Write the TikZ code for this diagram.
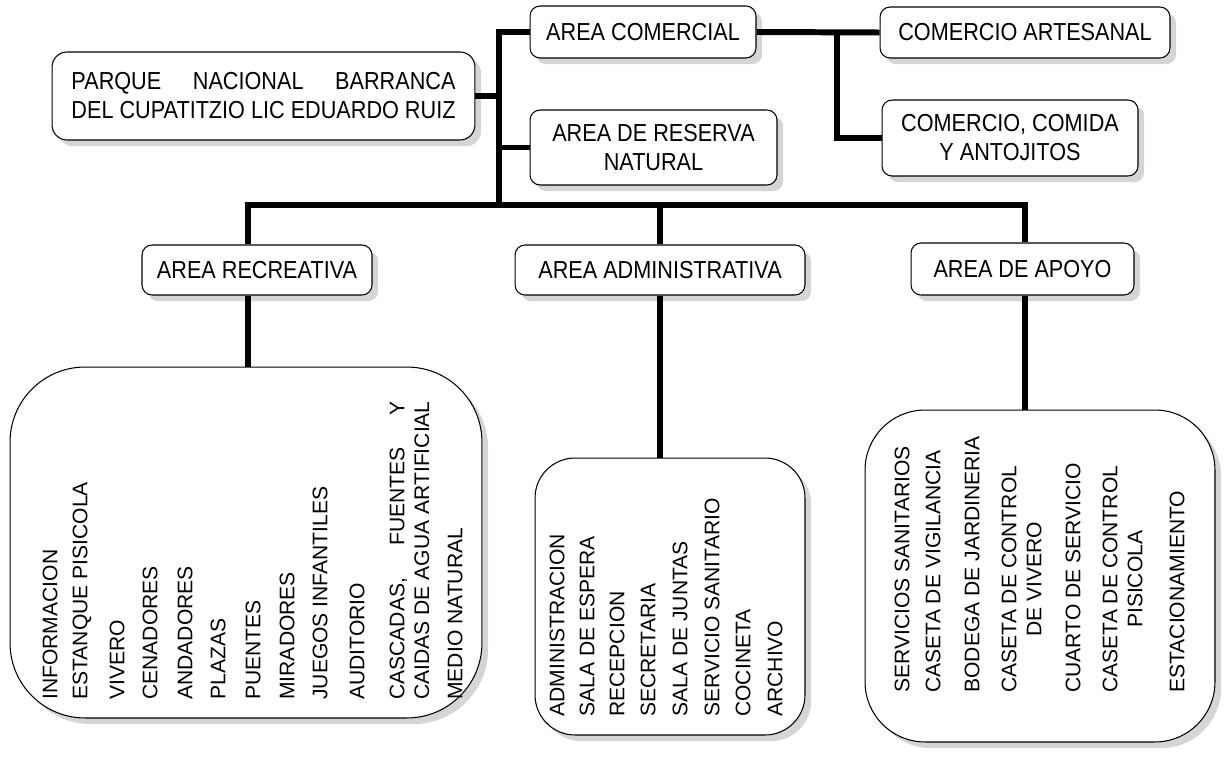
\documentclass[tikz,border=0pt]{standalone}
\usepackage{fontspec}
\setmainfont{Liberation Sans}
\newfontfamily\ttlfam[FakeStretch=0.88]{Liberation Sans}
\usetikzlibrary{shadows}
\newlength{\spw}
\newcommand{\ttl}{\ttlfam\fontsize{14}{16.5}\selectfont}
\newcommand{\lstf}{\fontsize{12}{14.2}\selectfont}
\newcommand{\spread}[2]{\settowidth{\spw}{#2}\makebox[\spw][s]{#1}}
\tikzset{
  ln/.style={line width=3.4pt},
  shd/.style={drop shadow={shadow xshift=3.5pt,shadow yshift=-3.5pt,fill=gray!65}},
  bx/.style={draw,line width=0.6pt,rounded corners=0.2cm,fill=white,shd,align=center,font=\ttl,inner sep=0pt},
  lst/.style={draw,line width=0.6pt,rounded corners=#1,fill=white,shd,inner sep=0pt},
  itm/.style={rotate=90,anchor=west,inner sep=0pt,align=center,font=\lstf}
}

\begin{document}
\begin{tikzpicture}[x=0.02cm,y=-0.02cm]
\useasboundingbox (0,0) rectangle (1226,757);
% top level
\node[bx,rounded corners=0.3cm,minimum width=8.46cm,minimum height=1.76cm] (root) at (263.5,96)
  {\spread{PARQUE NACIONAL BARRANCA}{DEL CUPATITZIO LIC EDUARDO RUIZ}\\DEL CUPATITZIO LIC EDUARDO RUIZ};
\node[bx,minimum width=4.52cm,minimum height=1.04cm] (comercial) at (643,32) {AREA COMERCIAL};
\node[bx,minimum width=5.8cm,minimum height=1.02cm] (artesanal) at (1025,32.5) {COMERCIO ARTESANAL};
\node[bx,minimum width=5.12cm,minimum height=1.52cm] (comida) at (1010,138) {COMERCIO, COMIDA\\Y ANTOJITOS};
\node[bx,minimum width=4.94cm,minimum height=1.5cm] (reserva) at (653.5,147.5) {AREA DE RESERVA\\NATURAL};
% areas
\node[bx,minimum width=4.6cm,minimum height=1cm] (recre) at (257,270) {AREA RECREATIVA};
\node[bx,minimum width=5.8cm,minimum height=1cm] (admin) at (660,270) {AREA ADMINISTRATIVA};
\node[bx,minimum width=4.46cm,minimum height=1.04cm] (apoyo) at (1022.5,269) {AREA DE APOYO};
% list boxes
\node[lst=1.5cm,minimum width=9.44cm,minimum height=7.02cm] (reclist) at (246,542.5) {};
\node[lst=0.8cm,minimum width=5.4cm,minimum height=5.54cm] (admlist) at (670,596.5) {};
\node[lst=1.2cm,minimum width=7cm,minimum height=6.64cm] (apolist) at (1040,576) {};

\foreach \x/\txt [count=\i] in {50/INFORMACION,82/ESTANQUE PISICOLA,117/VIVERO,150/CENADORES,
  185/ANDADORES,218/PLAZAS,253/PUENTES,287/MIRADORES,320/JUEGOS INFANTILES,357/AUDITORIO,
  409.5/{\spread{CASCADAS, FUENTES Y}{CAIDAS DE AGUA ARTIFICIAL}\\CAIDAS DE AGUA ARTIFICIAL},
  455/MEDIO NATURAL}
  \node[itm] (rec\i) at (\x,700) {\txt};
\foreach \x/\txt [count=\i] in {557/ADMINISTRACION,587/SALA DE ESPERA,617/RECEPCION,648/SECRETARIA,
  680/SALA DE JUNTAS,712/SERVICIO SANITARIO,743/COCINETA,775/ARCHIVO}
  \node[itm] (adm\i) at (\x,717) {\txt};
\foreach \x/\txt [count=\i] in {902/SERVICIOS SANITARIOS,933/CASETA DE VIGILANCIA,972/BODEGA DE JARDINERIA,
  1021.5/{CASETA DE CONTROL\\DE VIVERO},1073/CUARTO DE SERVICIO,1122.5/{CASETA DE CONTROL\\PISICOLA},
  1177/ESTACIONAMIENTO}
  \node[itm] (apo\i) at (\x,693) {\txt};

% connectors
\coordinate (busL) at (248,205);
\coordinate (busM) at (499,205);
\coordinate (busR) at (1025,205);
\coordinate (split) at (837,32);
\draw[ln] (comercial.west) -| (busM);
\draw[ln] (root.east) -- (root.east -| busM);
\draw[ln] (reserva.west) -- (reserva.west -| busM);
\draw[ln] (comercial.east) -- (artesanal.west);
\draw[ln] (split) |- (comida.west);
\draw[ln] (busL |- recre.north) -- (busL) -- (busR) -- (busR |- apoyo.north);
\draw[ln] (admin.north |- busM) -- (admin.north);
\draw[ln] (busL |- recre.south) -- (busL |- reclist.north);
\draw[ln] (admin.south) -- (admin.south |- admlist.north);
\draw[ln] (busR |- apoyo.south) -- (busR |- apolist.north);
\end{tikzpicture}
\end{document}
